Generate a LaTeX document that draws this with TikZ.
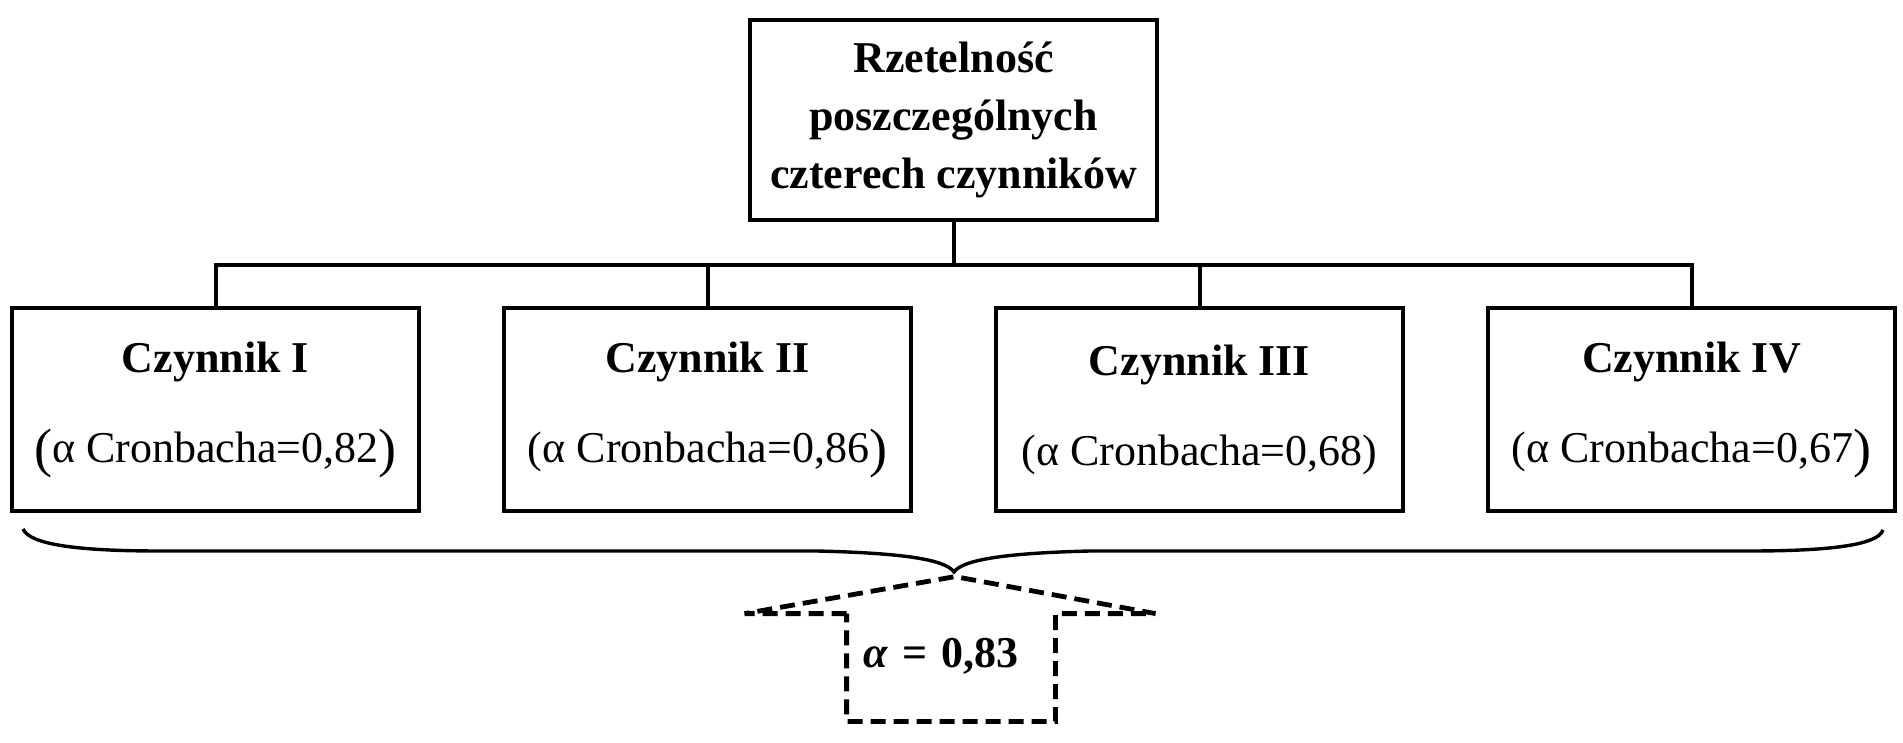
\documentclass[tikz,border=0pt]{standalone}
\usepackage{fontspec}
\setmainfont{Liberation Serif}
\usetikzlibrary{positioning}
\newcommand{\lpar}{\raisebox{-2pt}{\fontsize{27}{29}\selectfont(}}
\newcommand{\rpar}{\raisebox{-2pt}{\fontsize{27}{29}\selectfont)}}

\begin{document}
\begin{tikzpicture}[
  x=0.5pt,y=-0.5pt,
  node distance=44pt and 42.5pt,
  box/.style={draw,line width=2pt,outer sep=0pt,minimum width=203.5pt,minimum height=101.5pt,align=center,font=\fontsize{22}{29}\selectfont},
  head/.style={box,minimum height=100pt,font=\fontsize{22}{29}\selectfont\bfseries},
  sumbox/.style={minimum width=104pt,text width=88pt,inner xsep=8pt,inner ysep=0pt,text height=26.5pt,text depth=27pt,align=left,font=\fontsize{22}{29}\selectfont\bfseries},
  link/.style={line width=2pt},
  bracket/.style={line width=1.7pt},
  dashline/.style={line width=2.4pt,dash pattern=on 7.5pt off 4pt}
]
\useasboundingbox (0,0) rectangle (1903,743);
\node[head] (top) at (953.5,120) {Rzetelność\\poszczególnych\\czterech czynników};
\node[box] (f1) at (215.5,409.5) {\textbf{Czynnik I}\\[16pt]\lpar α Cronbacha=0,82\rpar};
\node[box,right=of f1] (f2) {\textbf{Czynnik II}\\[16pt](α Cronbacha=0,86\rpar};
\node[box,right=of f2] (f3) {\textbf{Czynnik III}\\[16pt](α Cronbacha=0,68)};
\node[box,right=of f3] (f4) {\textbf{Czynnik IV}\\[16pt](α Cronbacha=0,67\rpar};
\foreach \f in {f1,f2,f3,f4}
  \draw[link] (top.south) -- ++(0,45) -| (\f.north);
% klamra pod czynnikami
\coordinate (bl) at (23,529);
\coordinate (br) at (1883,530);
\coordinate (tip) at (954,572);
\draw[bracket] (bl) .. controls (30,545) and (80,551) .. (160,551) -- (817,551)
  .. controls (900,553) and (945,559) .. (tip)
  .. controls (963,559) and (1010,553) .. (1090,551) -- (1750,551)
  .. controls (1830,551) and (1878,545) .. (br);
\node[sumbox] (sum) at (951,667.5) {{\itshape α} = 0,83};
\draw[dashline] (sum.north west) -- ++(-51pt,0pt) -- ([shift={(2pt,18.5pt)}]sum.north)
  -- ([xshift=50pt]sum.north east) -- (sum.north east) -- (sum.south east) -- (sum.south west) -- cycle;
\end{tikzpicture}
\end{document}
